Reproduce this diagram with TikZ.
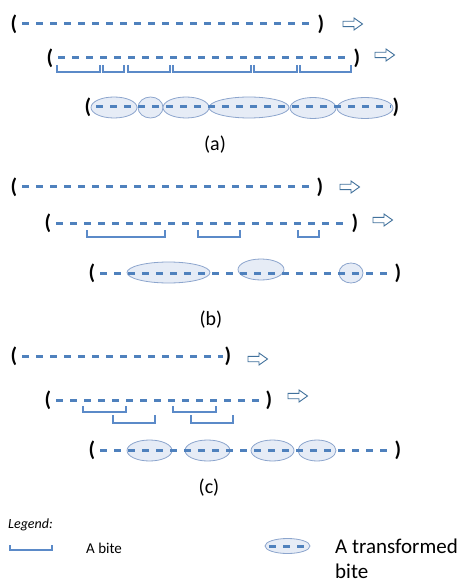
\documentclass[tikz,border=0pt]{standalone}
\usepackage{fontspec}
\setmainfont{Carlito}
\usetikzlibrary{shapes.geometric}
\definecolor{dashblue}{RGB}{79,129,189}
\definecolor{brk}{RGB}{91,138,200}
\definecolor{efill}{RGB}{230,236,246}
\definecolor{eline}{RGB}{140,165,205}
\definecolor{arr}{RGB}{65,113,156}
\begin{document}
\begin{tikzpicture}[x=1pt,y=-1pt,
 par/.style={inner sep=0pt, font=\bfseries\fontsize{21}{21}\selectfont},
 seq/.style={draw=dashblue, line width=3pt, dash pattern=on 7pt off 7pt, shorten <=5pt, shorten >=2pt},
 dashes/.style={draw=dashblue, line width=3pt, dash pattern=on 7pt off 7pt},
 brace/.style={draw=brk, line width=1.1pt},
 tb/.style={ellipse, draw=eline, fill=efill, line width=0.8pt, inner sep=0pt, minimum height=21pt},
 blk/.style={draw=arr, fill=white, line width=0.9pt, line join=miter},
 lab/.style={font=\fontsize{20}{20}\selectfont},
 blockarrow/.pic={\draw[blk] (0,-2.7) -- (11,-2.7) -- (11,-6) -- (19.5,0) -- (11,6) -- (11,2.7) -- (0,2.7) -- cycle;},
]
\useasboundingbox (0,0) rectangle (461,585);

% ---------- (a) ----------
\node[par] (a1l) at (14,24) {(};
\node[par] (a1r) at (321,24) {)};
\draw[seq] (a1l.east) -- (a1r.west);
\pic at (343,24) {blockarrow};

\node[par] (a2l) at (50,58) {(};
\node[par] (a2r) at (357,58) {)};
\draw[seq] (a2l.east) -- (a2r.west);
\pic at (375,55) {blockarrow};
\draw[brace] (57,65) |- (100,72) -- (100,65);
\draw[brace] (103,65) |- (124,72) -- (124,65);
\draw[brace] (128,65) |- (170,72) -- (170,65);
\draw[brace] (173,65) |- (251,72) -- (251,65);
\draw[brace] (254,65) |- (297,72) -- (297,65);
\draw[brace] (300,65) |- (351,72) -- (351,65);

\node[tb, minimum width=46pt] (ea1) at (114,107.5) {};
\node[tb, minimum width=25pt] (ea2) at (150.5,107.5) {};
\node[tb, minimum width=46pt] (ea3) at (186,107.5) {};
\node[tb, minimum width=80pt] (ea4) at (249,107.5) {};
\node[tb, minimum width=46pt] (ea5) at (313,108) {};
\node[tb, minimum width=56pt] (ea6) at (365,108) {};
\node[par] (a3l) at (88,107) {(};
\node[par] (a3r) at (396,107) {)};
\draw[seq] (a3l.east) -- (a3r.west);
\node[lab] (la) at (215,145) {(a)};

% ---------- (b) ----------
\node[par] (b1l) at (14,187) {(};
\node[par] (b1r) at (320,187) {)};
\draw[seq] (b1l.east) -- (b1r.west);
\pic at (340,187) {blockarrow};

\node[par] (b2l) at (48,223) {(};
\node[par] (b2r) at (355,223) {)};
\draw[seq] (b2l.east) -- (b2r.west);
\pic at (373,220) {blockarrow};
\draw[brace] (87,230) |- (165,237) -- (165,230);
\draw[brace] (198,230) |- (240,237) -- (240,230);
\draw[brace] (298,230) |- (319,237) -- (319,230);

\node[tb, minimum width=83pt] (eb1) at (168.5,272.5) {};
\node[tb, minimum width=46pt] (eb2) at (261,269.5) {};
\node[tb, minimum width=24pt, minimum height=20pt] (eb3) at (351,273) {};
\node[par] (b3l) at (92,273) {(};
\node[par] (b3r) at (398,273) {)};
\draw[seq] (b3l.east) -- (b3r.west);
\node[lab] (lb) at (211,320) {(b)};

% ---------- (c) ----------
\node[par] (c1l) at (14,356) {(};
\node[par] (c1r) at (228,356) {)};
\draw[seq] (c1l.east) -- (c1r.west);
\pic at (248,359) {blockarrow};

\node[par] (c2l) at (48,400) {(};
\node[par] (c2r) at (269,400) {)};
\draw[seq] (c2l.east) -- (c2r.west);
\pic at (288,396) {blockarrow};
\draw[brace] (83,406) |- (126,412) -- (126,406);
\draw[brace] (173,406) |- (216,412) -- (216,406);
\draw[brace] (113,415) |- (155,423) -- (155,415);
\draw[brace] (191,415) |- (233,423) -- (233,415);

\node[tb, minimum width=45pt] (ec1) at (149.5,450.5) {};
\node[tb, minimum width=45pt] (ec2) at (207.5,450.5) {};
\node[tb, minimum width=43pt] (ec3) at (272.5,450.5) {};
\node[tb, minimum width=38pt] (ec4) at (317,450.5) {};
\node[par] (c3l) at (92,450) {(};
\node[par] (c3r) at (398,450) {)};
\draw[seq] (c3l.east) -- (c3r.west);
\node[lab] (lc) at (209,488) {(c)};

% ---------- legend ----------
\node[anchor=base west, inner sep=0pt, font=\itshape\fontsize{14}{14}\selectfont] (leg) at (8,528) {Legend:};
\draw[brace] (10,545) |- (52,550) -- (52,545);
\node[anchor=base west, inner sep=0pt, font=\fontsize{15}{15}\selectfont] (abite) at (86,553) {A bite};
\node[tb, minimum width=45pt, minimum height=15pt] (le) at (287.5,546) {};
\draw[dashes] (le.west) ++(4.5,0) -- ++(36,0);
\node[anchor=base west, inner sep=0pt, font=\fontsize{21}{21}\selectfont] (t1) at (335,553) {A transformed};
\node[anchor=base west, inner sep=0pt, font=\fontsize{21}{21}\selectfont] (t2) at (335,578) {bite};
\end{tikzpicture}
\end{document}
